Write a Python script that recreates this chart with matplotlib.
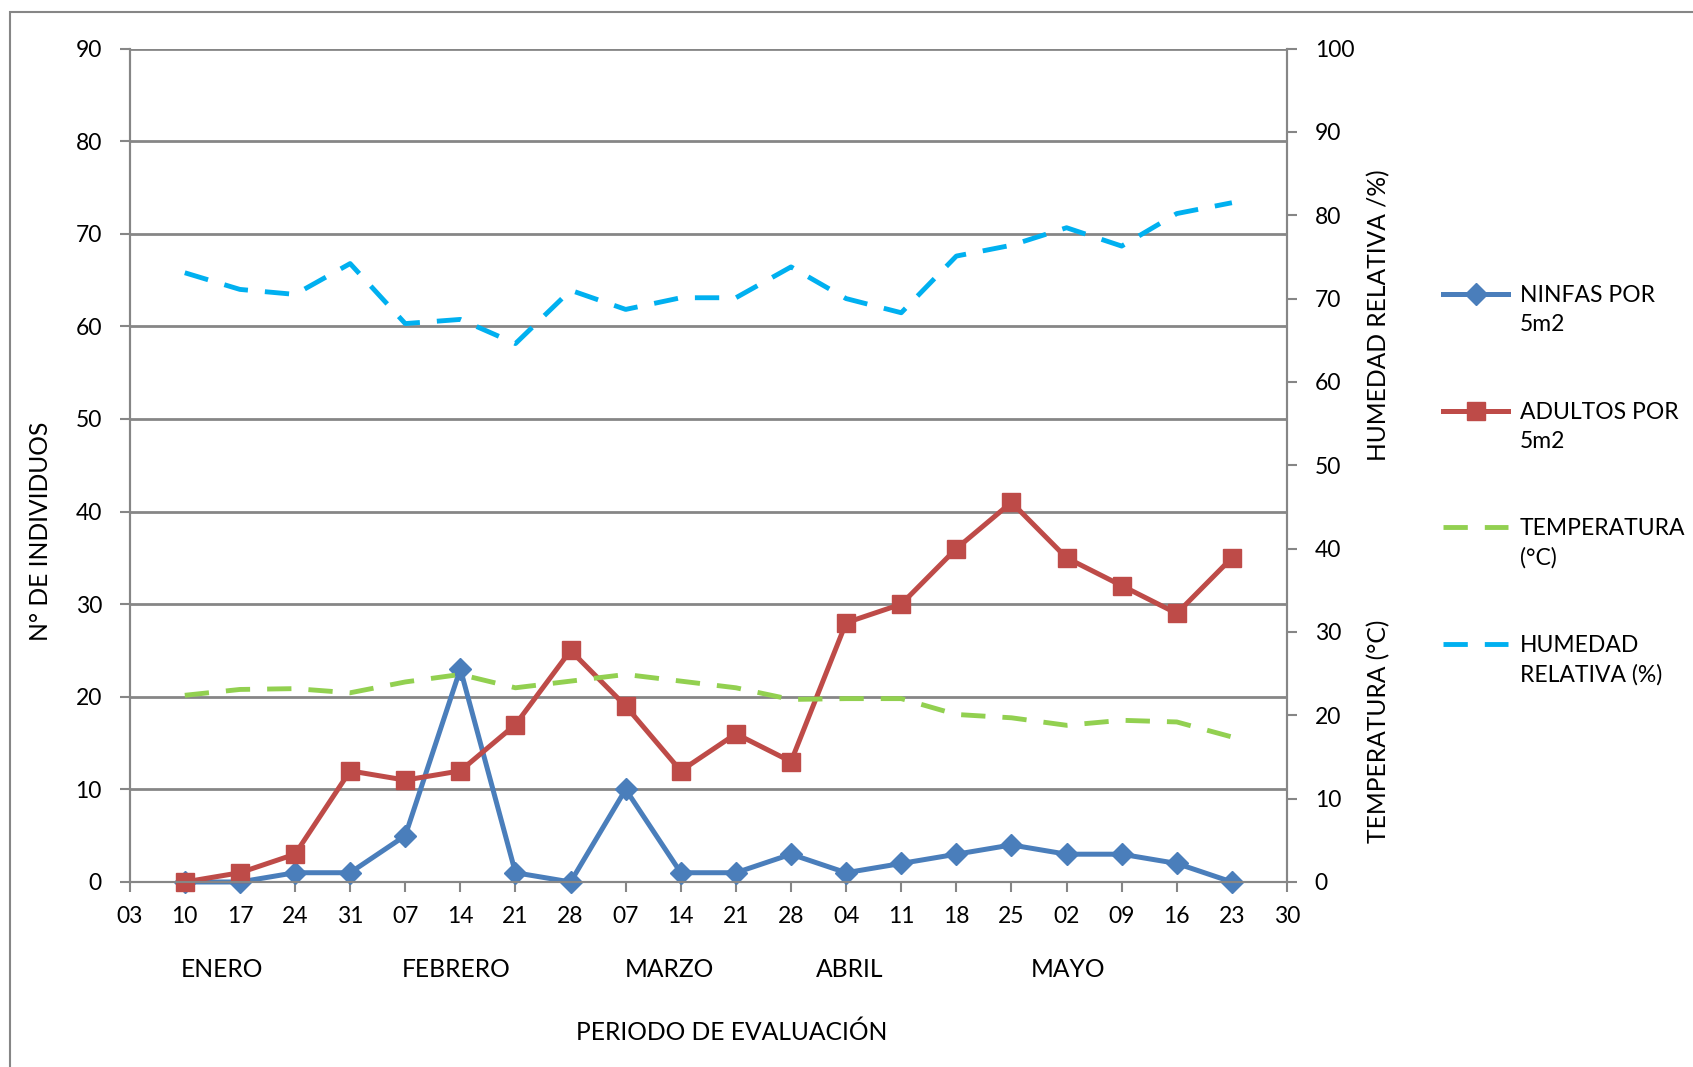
import matplotlib.pyplot as plt
from matplotlib.patches import Rectangle

plt.rcParams['font.family'] = ['Lato', 'DejaVu Sans']

# fechas de muestreo (eje x)
tick_labels = ['03', '10', '17', '24', '31', '07', '14', '21', '28', '07', '14',
               '21', '28', '04', '11', '18', '25', '02', '09', '16', '23', '30']
months = ['ENERO', 'FEBRERO', 'MARZO', 'ABRIL', 'MAYO']
month_pos = [1.67, 5.93, 9.8, 13.07, 17.02]

ninfas = [0, 0, 1, 1, 5, 23, 1, 0, 10, 1, 1, 3, 1, 2, 3, 4, 3, 3, 2, 0]
adultos = [0, 1, 3, 12, 11, 12, 17, 25, 19, 12, 16, 13, 28, 30, 36, 41, 35, 32, 29, 35]
temperatura = [22.4, 23.1, 23.2, 22.7, 24.0, 24.9, 23.3, 24.1, 24.9, 24.1,
               23.3, 21.9, 22.0, 22.0, 20.1, 19.7, 18.8, 19.4, 19.2, 17.4]
humedad = [73.1, 71.1, 70.5, 74.2, 67.0, 67.5, 64.6, 71.0, 68.7, 70.1,
           70.1, 73.8, 70.0, 68.3, 75.1, 76.4, 78.5, 76.3, 80.2, 81.5]

# leyenda: primera y segunda linea de cada etiqueta
leg_line1 = ['NINFAS POR', 'ADULTOS POR', 'TEMPERATURA', 'HUMEDAD']
leg_line2 = ['5m2', '5m2', '(°C)', 'RELATIVA (%)']

x = list(range(1, len(ninfas) + 1))
grey = '#868686'
fs = 16.5     # ticks y leyenda
fs_t = 17.7   # titulos y meses

fig = plt.figure(figsize=(16.93, 10.67), dpi=100)
ax = fig.add_axes([0.0766, 0.1734, 0.6836, 0.7811])
ax2 = ax.twinx()

# marco del grafico
fig.patches.append(Rectangle((10 / 1693, -0.1), 2, 1.1 - 12 / 1067, transform=fig.transFigure,
                             fill=False, edgecolor=grey, linewidth=1.5))

l1, = ax.plot(x, ninfas, color='#4a7ebb', lw=3.6, marker='D', ms=11.5, label=leg_line1[0], clip_on=False)
l2, = ax.plot(x, adultos, color='#be4b48', lw=3.6, marker='s', ms=13, label=leg_line1[1], clip_on=False)
l3, = ax2.plot(x, temperatura, color='#92d050', lw=3.5, ls=(0, (5, 3.5)), label=leg_line1[2])
l4, = ax2.plot(x, humedad, color='#00b0f0', lw=3.5, ls=(0, (5, 3.5)), label=leg_line1[3])

ax.set_xlim(0, 21)
ax.set_ylim(0, 90)
ax2.set_ylim(0, 100)
ax.set_xticks(range(len(tick_labels)))
ax.set_xticklabels(tick_labels)
ax.set_yticks(range(0, 91, 10))
ax2.set_yticks(range(0, 101, 10))

ax.grid(axis='y', color=grey, lw=2)
ax.set_axisbelow(True)
for a in (ax, ax2):
    a.spines['top'].set_visible(False)
    for s in ('left', 'right', 'bottom'):
        a.spines[s].set_color(grey)
        a.spines[s].set_linewidth(1.5)
    a.tick_params(colors=grey, labelcolor='black', labelsize=fs, length=7, width=1.5)
ax.tick_params(axis='x', pad=10)
ax.tick_params(axis='y', pad=13)
ax2.tick_params(axis='y', pad=13)

for m, p in zip(months, month_pos):
    ax.text(p, -0.105, m, transform=ax.get_xaxis_transform(), ha='center', va='center', fontsize=fs_t)
ax.text(10.92, -0.18, 'PERIODO DE EVALUACIÓN', transform=ax.get_xaxis_transform(),
        ha='center', va='center', fontsize=fs_t)

fig.text(41 / 1693, 1 - 531 / 1067, 'N° DE INDIVIDUOS', rotation=90, ha='center', va='center', fontsize=fs_t)
fig.text(1379 / 1693, 1 - 315 / 1067, 'HUMEDAD RELATIVA /%)', rotation=90, ha='center', va='center', fontsize=fs_t)
fig.text(1379 / 1693, 1 - 731 / 1067, 'TEMPERATURA (°C)', rotation=90, ha='center', va='center', fontsize=fs_t)

leg = fig.legend(handles=[l1, l2, l3, l4], loc='upper left', bbox_to_anchor=(1443 / 1693, 1 - 285 / 1067),
                 frameon=False, fontsize=fs, handlelength=2.85, labelspacing=4.17, handletextpad=0.5,
                 borderaxespad=0, borderpad=0)

# segunda linea de cada etiqueta de la leyenda
fig.canvas.draw()
inv = fig.transFigure.inverted()
for t, second in zip(leg.get_texts(), leg_line2):
    bb = t.get_window_extent()
    x0, y0 = inv.transform((bb.x0, bb.y0 - 8))
    fig.text(x0, y0, second, ha='left', va='top', fontsize=fs)

fig.savefig('out.png', dpi=100)
